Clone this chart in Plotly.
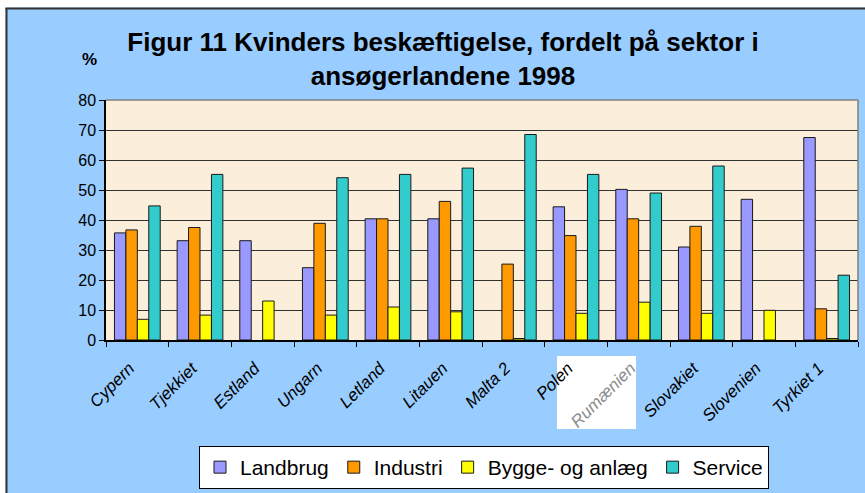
import plotly.graph_objects as go

categories = ["Cypern", "Tjekkiet", "Estland", "Ungarn", "Letland", "Litauen",
              "Malta 2", "Polen", "Rumænien", "Slovakiet", "Slovenien", "Tyrkiet 1"]
tick_labels = ["Cypern", "Tjekkiet", "Estland", "Ungarn", "Letland", "Litauen",
               "Malta 2", "Polen", '<span style="color:#8a8a8a">Rumænien</span>',
               "Slovakiet", "Slovenien", "Tyrkiet 1"]
landbrug = [35.7, 33.1, 33.1, 24.1, 40.4, 40.4, None, 44.4, 50.2, 31.0, 46.9, 67.5]
industri = [36.7, 37.5, None, 38.9, 40.4, 46.2, 25.3, 34.8, 40.4, 37.9, None, 10.4]
bygge = [6.9, 8.3, 13.0, 8.3, 11.0, 9.4, 0.5, 8.9, 12.6, 8.9, 9.9, 0.5]
service = [44.7, 55.2, None, 54.1, 55.2, 57.3, 68.5, 55.2, 49.0, 58.0, None, 21.6]

series_names = ["Landbrug", "Industri", "Bygge- og anlæg", "Service"]
series_values = [landbrug, industri, bygge, service]
series_colors = ["#9999FF", "#FF9900", "#FFFF00", "#33CCCC"]
y_ticks = [0, 10, 20, 30, 40, 50, 60, 70, 80]

FONT = "Liberation Sans, Arial, sans-serif"

fig = go.Figure()
for name, vals, col in zip(series_names, series_values, series_colors):
    fig.add_trace(go.Bar(
        name=name, x=categories, y=vals,
        marker=dict(color=col, line=dict(color="#1a1a1a", width=1)),
    ))

W, H = 865, 493
L, R, T, B = 106, 7, 100, 153
pw, ph = W - L - R, H - T - B

def px_x(p):
    return (p - L) / pw

def px_y(p):
    return (H - B - p) / ph

shapes = [
    # white strips outside the chart border
    dict(type="rect", xref="paper", yref="paper", x0=px_x(-5), x1=px_x(W + 5),
         y0=px_y(7.5), y1=px_y(-5), fillcolor="white", line=dict(width=0), layer="above"),
    dict(type="rect", xref="paper", yref="paper", x0=px_x(-5), x1=px_x(5.5),
         y0=px_y(H + 5), y1=px_y(-5), fillcolor="white", line=dict(width=0), layer="above"),
    # dark chart border
    dict(type="line", xref="paper", yref="paper", x0=px_x(5.5), x1=px_x(W + 5),
         y0=px_y(8.5), y1=px_y(8.5), line=dict(color="#333333", width=2), layer="above"),
    dict(type="line", xref="paper", yref="paper", x0=px_x(6.5), x1=px_x(6.5),
         y0=px_y(H + 5), y1=px_y(8), line=dict(color="#333333", width=2), layer="above"),
    # plot area top/right frame (gray)
    dict(type="line", xref="paper", yref="paper", x0=0, x1=1, y0=1, y1=1,
         line=dict(color="#7f7f7f", width=1.5), layer="above"),
    dict(type="line", xref="paper", yref="paper", x0=1, x1=1, y0=0, y1=1,
         line=dict(color="#7f7f7f", width=1.5), layer="above"),
    # white pasted box over the Rumænien label
    dict(type="rect", xref="paper", yref="paper", x0=px_x(557), x1=px_x(636),
         y0=px_y(429), y1=px_y(356), fillcolor="white", line=dict(width=0), layer="below"),
]

fig.update_layout(
    width=W, height=H,
    margin=dict(l=L, r=R, t=T, b=B, autoexpand=False),
    paper_bgcolor="#99CCFF",
    plot_bgcolor="#FBEFDB",
    barmode="group",
    bargap=0.27,
    bargroupgap=0,
    font=dict(family=FONT, color="black"),
    title=dict(
        text="<b>Figur 11 Kvinders beskæftigelse, fordelt på sektor i</b><br><b>ansøgerlandene 1998</b>",
        font=dict(family=FONT, size=26, color="black"),
        xref="container", yref="container", x=443 / W, xanchor="center",
        y=1 - 51 / H, yanchor="middle",
    ),
    showlegend=True,
    legend=dict(
        orientation="h", x=px_x(484), xanchor="center", y=px_y(446), yanchor="top",
        bgcolor="white", bordercolor="black", borderwidth=1,
        font=dict(family=FONT, size=21, color="black"),
        itemwidth=30, traceorder="normal",
    ),
    xaxis=dict(
        showline=True, linecolor="black", linewidth=1.5,
        ticks="outside", tickson="boundaries", ticklen=5, tickcolor="black",
        tickmode="array", tickvals=categories, ticktext=tick_labels,
        tickangle=-45, showgrid=False,
        ticklabelshift=-8, ticklabelstandoff=10,
        tickfont=dict(family=FONT, size=17, color="black", style="italic"),
    ),
    yaxis=dict(
        range=[0, 80], tickvals=y_ticks, showline=True, linecolor="black", linewidth=1.5,
        ticks="outside", ticklen=5, tickcolor="black",
        showgrid=True, gridcolor="#333333", gridwidth=1, zeroline=False,
        tickfont=dict(family=FONT, size=16, color="black"),
    ),
    shapes=shapes,
    annotations=[
        dict(text="<b>%</b>", xref="paper", yref="paper", x=px_x(89.5), y=px_y(60),
             xanchor="center", yanchor="middle", showarrow=False,
             font=dict(family=FONT, size=17, color="black")),
    ],
)

fig.write_html(
    "out.html",
    config={"displayModeBar": False},
    post_script="document.body.style.margin='0';document.body.style.overflow='hidden';",
)
